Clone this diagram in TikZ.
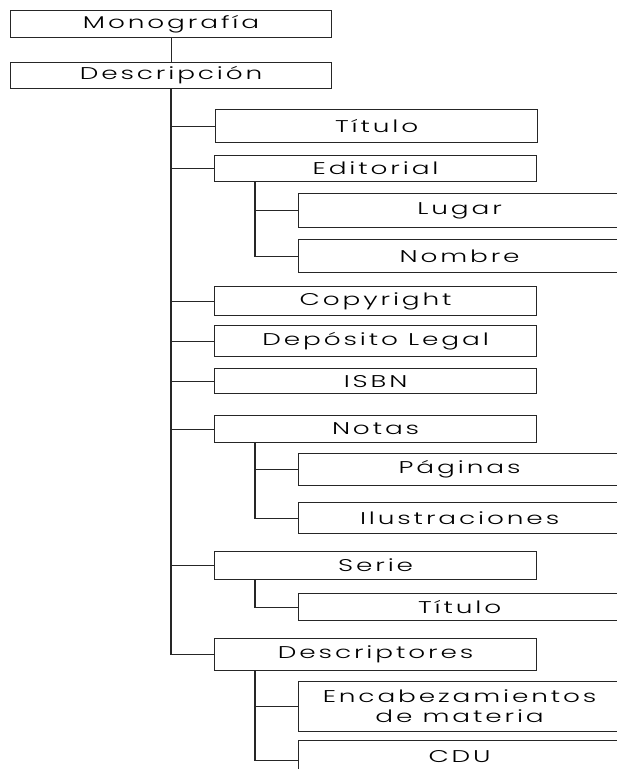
\documentclass[tikz,border=0pt]{standalone}
\usepackage{fontspec}
\setmainfont{Poppins}[UprightFont=* Light,FakeStretch=1.55,LetterSpace=17]
\begin{document}
\begin{tikzpicture}[x=1pt,y=-1pt,
  box/.style={draw=black!85,line width=1.2pt,rectangle,inner sep=0pt,anchor=north west,font=\fontsize{17}{20}\selectfont,text=black},
  link/.style={draw=black!85,line width=1.2pt}]
\useasboundingbox (0,0) rectangle (617,769);
\clip (0,0) rectangle (617,769);
\fill[white] (0,0) rectangle (617,769);
% level 0/1
\node[box,minimum width=321pt,minimum height=27pt] (mono) at (10,10) {Monografía};
\node[box,minimum width=321pt,minimum height=26pt] (desc) at (10,62) {Descripción};
% level 2
\node[box,minimum width=322pt,minimum height=33pt] (tit) at (215,109) {Título};
\node[box,minimum width=322pt,minimum height=26pt] (edit) at (214,155) {Editorial};
\node[box,minimum width=322pt,minimum height=29pt] (copy) at (214,286) {Copyright};
\node[box,minimum width=322pt,minimum height=31pt] (dep) at (214,325) {Depósito Legal};
\node[box,minimum width=322pt,minimum height=25pt] (isbn) at (214,368) {ISBN};
\node[box,minimum width=322pt,minimum height=27pt] (notas) at (214,415) {Notas};
\node[box,minimum width=322pt,minimum height=28pt] (serie) at (214,551) {Serie};
\node[box,minimum width=322pt,minimum height=32pt] (descr) at (214,638) {Descriptores};
% level 3
\node[box,minimum width=322pt,minimum height=34pt] (lugar) at (298,193) {Lugar};
\node[box,minimum width=322pt,minimum height=33pt] (nombre) at (298,239) {Nombre};
\node[box,minimum width=322pt,minimum height=32pt] (pag) at (298,453) {Páginas};
\node[box,minimum width=322pt,minimum height=31pt] (ilus) at (298,502) {Ilustraciones};
\node[box,minimum width=322pt,minimum height=27pt] (tit2) at (298,593) {Título};
\node[box,minimum width=322pt,minimum height=50pt,align=center] (enc) at (298,681) {Encabezamientos\\de materia};
\node[box,minimum width=322pt,minimum height=40pt,text height=19pt,text depth=15pt] (cdu) at (298,740) {CDU};
% trunk coordinates
\coordinate (tk) at (171,0);
\coordinate (sk) at (255,0);
% connectors
\draw[link] (mono) -- (desc);
\draw[link] (desc.south -| tk) |- (descr.west);
\foreach \n in {tit,edit,copy,dep,isbn,notas,serie}
  \draw[link] (\n.west -| tk) -- (\n.west);
\draw[link] (edit.south -| sk) |- (nombre.west);
\draw[link] (lugar.west -| sk) -- (lugar.west);
\draw[link] (notas.south -| sk) |- (ilus.west);
\draw[link] (pag.west -| sk) -- (pag.west);
\draw[link] (serie.south -| sk) |- (tit2.west);
\draw[link] (descr.south -| sk) |- (cdu.west);
\draw[link] (enc.west -| sk) -- (enc.west);
\end{tikzpicture}
\end{document}
